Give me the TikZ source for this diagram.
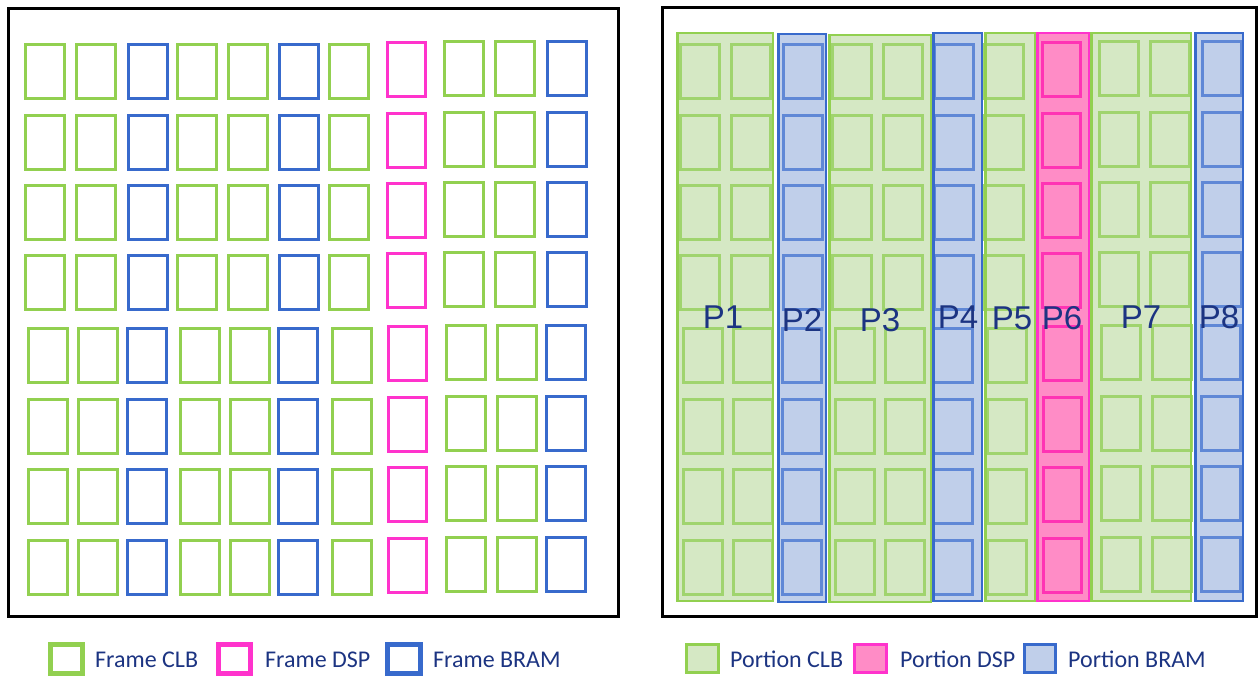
\documentclass[tikz,border=0pt]{standalone}
\usepackage{fontspec}
\setmainfont{Carlito}
\newfontfamily\plabfont{Liberation Sans}
\definecolor{clbc}{RGB}{146,208,80}
\definecolor{bramc}{RGB}{56,106,204}
\definecolor{dspc}{RGB}{255,51,204}
\definecolor{clbf}{RGB}{213,232,196}
\definecolor{bramf}{RGB}{192,207,234}
\definecolor{dspf}{RGB}{255,140,198}
\definecolor{clbi}{RGB}{160,212,110}
\definecolor{brami}{RGB}{96,136,214}
\definecolor{dspi}{RGB}{255,51,180}
\definecolor{navy}{RGB}{28,52,130}
\begin{document}
\begin{tikzpicture}[x=1pt,y=-1pt,
  lclb/.style={draw=clbc,line width=3pt},
  lbram/.style={draw=bramc,line width=3pt},
  ldsp/.style={draw=dspc,line width=3pt},
  rclb/.style={draw=clbi,line width=3pt},
  rbram/.style={draw=brami,line width=3pt},
  rdsp/.style={draw=dspi,line width=3pt},
  pclbfill/.style={fill=clbf},
  pbramfill/.style={fill=bramf},
  pdspfill/.style={fill=dspf},
  pclbline/.style={draw=clbc,line width=2.5pt},
  pbramline/.style={draw=bramc,line width=2.5pt},
  pdspline/.style={draw=dspc,line width=2.5pt},
  panel/.style={draw=black,line width=3pt},
  plabel/.style={text=navy,font=\plabfont\fontsize{33}{36}\selectfont,inner sep=0pt},
  legtext/.style={text=navy,font=\fontsize{24}{28}\selectfont,inner sep=0pt,anchor=base west},
  legleft/.style={line width=5pt,fill=white},
  legright/.style={line width=3pt}
]
\useasboundingbox (0,0) rectangle (1260,677);
\fill[white] (0,0) rectangle (1260,677);

% panels
\draw[panel] (8.5,8.5) rectangle (618.5,616.5);
\draw[panel] (662.5,7.5) rectangle (1256.5,616.5);

% portion fills
\foreach \xl/\yt/\xr/\yb/\t in {676/32/774/602/clb, 777/33/827/603/bram, 828/34/932/603/clb, 932/32/983/602/bram, 984/32/1036/602/clb, 1036/32/1090/602/dsp, 1090/32/1192/602/clb, 1194/32/1244/602/bram}
  \fill[p\t fill] (\xl+1.25,\yt+1.25) rectangle (\xr-1.25,\yb-1.25);

% frames (left) and inner frames (right)
\foreach \xa/\xb/\t/\yo/\w in {24/27/clb/0/42, 75/77/clb/0/42, 127/126/bram/0/42, 176/179/clb/0/42, 227/229/clb/0/42, 278/277/bram/0/42, 328/331/clb/0/42, 386/387/dsp/-2/41, 443/445/clb/-3/42, 494/496/clb/-3/42, 546/545/bram/-3/42}{
  \foreach \r [count=\i] in {43,114,184,254,327,398,468,539}{
    \pgfmathsetmacro\xx{ifthenelse(\i<5,\xa,\xb)+1.5}
    \pgfmathsetmacro\yy{\r+\yo+1.5}
    \pgfmathsetmacro\ww{\w-3}
    \draw[l\t] (\xx,\yy) rectangle ++(\ww,54);
    \draw[r\t] (\xx+655,\yy) rectangle ++(\ww,54);
  }
}

% portion borders
\foreach \xl/\yt/\xr/\yb/\t in {676/32/774/602/clb, 777/33/827/603/bram, 828/34/932/603/clb, 932/32/983/602/bram, 984/32/1036/602/clb, 1036/32/1090/602/dsp, 1090/32/1192/602/clb, 1194/32/1244/602/bram}
  \draw[p\t line] (\xl+1.25,\yt+1.25) rectangle (\xr-1.25,\yb-1.25);

% portion labels
\node[plabel] (p1) at (723,317) {P1};
\node[plabel] (p2) at (802,320) {P2};
\node[plabel] (p3) at (880,320) {P3};
\node[plabel] (p4) at (958,317) {P4};
\node[plabel] (p5) at (1012,318) {P5};
\node[plabel] (p6) at (1062,318) {P6};
\node[plabel] (p7) at (1141,317) {P7};
\node[plabel] (p8) at (1219,317) {P8};

% legend left
\draw[legleft,draw=clbc] (50.5,644.5) rectangle (82.5,673.5);
\node[legtext] (lg1) at (95,667) {Frame CLB};
\draw[legleft,draw=dspc] (218.5,644.5) rectangle (250.5,673.5);
\node[legtext] (lg2) at (265,667) {Frame DSP};
\draw[legleft,draw=bramc] (387.5,644.5) rectangle (420.5,673.5);
\node[legtext] (lg3) at (433,667) {Frame BRAM};

% legend right
\draw[legright,draw=clbc,fill=clbf] (686.5,644.5) rectangle (718.5,672.5);
\node[legtext] (lg4) at (730,667) {Portion CLB};
\draw[legright,draw=dspc,fill=dspf] (854.5,644.5) rectangle (886.5,672.5);
\node[legtext] (lg5) at (900,667) {Portion DSP};
\draw[legright,draw=bramc,fill=bramf] (1024.5,644.5) rectangle (1055.5,672.5);
\node[legtext] (lg6) at (1068,667) {Portion BRAM};
\end{tikzpicture}
\end{document}
